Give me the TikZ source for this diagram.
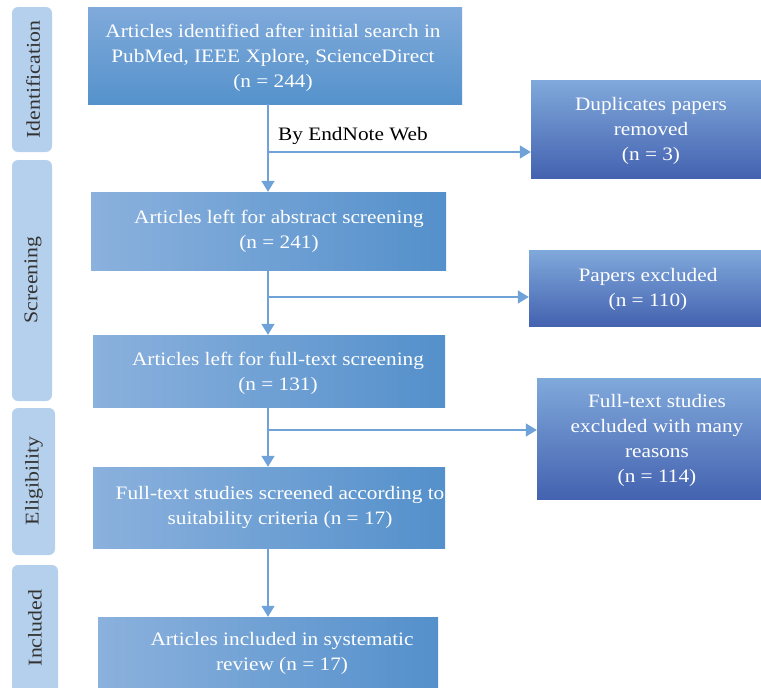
\documentclass[tikz,border=0pt]{standalone}
\usepackage{fontspec}
\setmainfont{Liberation Serif}[FakeStretch=1.12]
\usetikzlibrary{arrows.meta}
\definecolor{lblfill}{HTML}{B5D0EC}
\definecolor{lbltext}{HTML}{333333}
\definecolor{mainlight}{HTML}{8BB1DD}
\definecolor{maindark}{HTML}{5490CB}
\definecolor{toplight}{HTML}{80AADB}
\definecolor{topdark}{HTML}{5592CB}
\definecolor{sidelight}{HTML}{80A9DB}
\definecolor{sidedark}{HTML}{4462B0}
\definecolor{linec}{HTML}{6FA2D8}
\tikzset{
  x=1pt,y=-1pt,
  hbox/.style={draw=none,rectangle,inner sep=0pt,left color=mainlight,right color=maindark},
  vbox/.style={draw=none,rectangle,inner sep=0pt,top color=toplight,bottom color=topdark},
  sbox/.style={draw=none,rectangle,inner sep=0pt,top color=sidelight,bottom color=sidedark},
  lbl/.style={fill=lblfill,rounded corners=6pt,inner sep=0pt},
  lbltxt/.style={rotate=90,text=lbltext,font=\fontsize{19.5}{22}\selectfont},
  btxt/.style={text=white,align=center,font=\fontsize{19}{25}\selectfont,inner sep=0pt},
  conn/.style={draw=linec,line width=1.5pt},
  arr/.style={conn,-{Triangle[length=11pt,width=13pt]}},
}
\begin{document}
\begin{tikzpicture}
\useasboundingbox (0,0) rectangle (761,688);
% side labels
\path[lbl] (12,7) rectangle (52,152);
\node[lbltxt] (l1) at (33,79.5) {Identification};
\path[lbl] (12,160) rectangle (52,401);
\node[lbltxt] (l2) at (33,280) {Screening};
\path[lbl] (12,408) rectangle (55,555);
\node[lbltxt] (l3) at (34,481) {Eligibility};
\path[lbl] (12,565) rectangle (58,700);
\node[lbltxt] (l4) at (35,628) {Included};
% main boxes
\node[vbox,minimum width=374,minimum height=97] (b1) at (275,55.5) {};
\node[btxt] (t1) at (273,58) {Articles identified after initial search in\\PubMed, IEEE Xplore, ScienceDirect\\(n = 244)};
\node[hbox,minimum width=355,minimum height=78] (b2) at (268.5,231) {};
\node[btxt] (t2) at (279,231) {Articles left for abstract screening\\(n = 241)};
\node[hbox,minimum width=352,minimum height=72] (b3) at (269,371) {};
\node[btxt] (t3) at (278,373) {Articles left for full-text screening\\(n = 131)};
\node[hbox,minimum width=352,minimum height=81] (b4) at (269,507.5) {};
\node[btxt] (t4) at (280,507) {Full-text studies screened according to\\suitability criteria (n = 17)};
\node[hbox,minimum width=340,minimum height=71] (b5) at (268,652.5) {};
\node[btxt] (t5) at (282,653) {Articles included in systematic\\review (n = 17)};
% side boxes
\node[sbox,minimum width=230,minimum height=98] (r1) at (646,129) {};
\node[btxt] (s1) at (651,131) {Duplicates papers\\removed\\(n = 3)};
\node[sbox,minimum width=232,minimum height=76] (r2) at (645,288) {};
\node[btxt] (s2) at (648,289) {Papers excluded\\(n = 110)};
\node[sbox,minimum width=224,minimum height=121] (r3) at (649,438.5) {};
\node[btxt] (s3) at (657,440) {Full-text studies\\excluded with many\\reasons\\(n = 114)};
% connectors
\coordinate (j1) at (268,152);
\coordinate (j2) at (268,297);
\coordinate (j3) at (268,430);
\draw[arr] (b1.south -| j1) -- (b2.north -| j1);
\draw[arr] (j1) -- (j1 -| r1.west);
\node[anchor=base west,text=black,font=\fontsize{19}{20}\selectfont,inner sep=0pt] (e1) at (278,140) {By EndNote Web};
\draw[arr] (b2.south -| j2) -- (b3.north -| j2);
\draw[arr] (j2) -- (j2 -| r2.west);
\draw[arr] (b3.south -| j3) -- (b4.north -| j3);
\draw[arr] (j3) -- (j3 -| r3.west);
\draw[arr] (b4.south -| j3) -- (b5.north -| j3);
\end{tikzpicture}
\end{document}
